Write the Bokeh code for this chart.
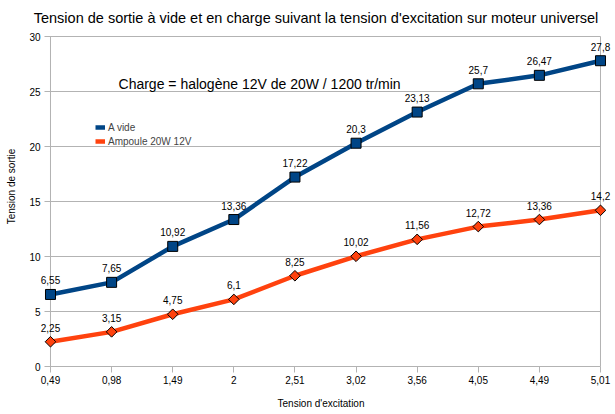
import math
from bokeh.plotting import figure
from bokeh.models import (Range1d, FixedTicker, Label, LabelSet,
                          ColumnDataSource, Legend, LegendItem)
from bokeh.core.properties import value
from bokeh.embed import file_html
from bokeh.resources import INLINE

categories = ["0,49", "0,98", "1,49", "2", "2,51", "3,02", "3,56", "4,05", "4,49", "5,01"]
a_vide = [6.55, 7.65, 10.92, 13.36, 17.22, 20.3, 23.13, 25.7, 26.47, 27.8]
ampoule = [2.25, 3.15, 4.75, 6.1, 8.25, 10.02, 11.56, 12.72, 13.36, 14.2]
y_ticks = [0, 5, 10, 15, 20, 25, 30]

BLUE = "#004586"
ORANGE = "#ff420e"
GRID = "#b3b3b3"
FONT = "Liberation Sans"

def fmt(v):
    return f"{v:g}".replace(".", ",")

xs = list(range(len(categories)))
src_a = ColumnDataSource(dict(x=xs, y=a_vide, t=[fmt(v) for v in a_vide]))
src_b = ColumnDataSource(dict(x=xs, y=ampoule, t=[fmt(v) for v in ampoule]))
src_g = ColumnDataSource(dict(y=y_ticks, x0=[xs[0]] * len(y_ticks), x1=[xs[-1]] * len(y_ticks),
                              t=[str(v) for v in y_ticks]))
src_v = ColumnDataSource(dict(x=[xs[0], xs[-1]], y0=[y_ticks[0]] * 2, y1=[y_ticks[-1]] * 2))

# the frame also covers the title area, the y tick labels and a strip below 0
top_room = 3.273
bottom_room = 0.545
p = figure(width=615, height=414, output_backend="svg", toolbar_location=None,
           x_range=Range1d(xs[0] - 0.3927, xs[-1] + 0.2455),
           y_range=Range1d(y_ticks[0] - bottom_room, y_ticks[-1] + top_room),
           min_border_left=26, min_border_right=0, min_border_top=0, min_border_bottom=42)
p.outline_line_color = None
p.background_fill_color = "white"
p.border_fill_color = "white"
p.xgrid.grid_line_color = None
p.ygrid.grid_line_color = None

# gridlines + borders + y tick marks
p.segment(x0="x0", y0="y", x1="x1", y1="y", source=src_g, line_color=GRID, line_width=1)
p.segment(x0="x", y0="y0", x1="x", y1="y1", source=src_v, line_color=GRID, line_width=1)
p.scatter("x0", "y", source=src_g, marker="dash", size=12, line_color=GRID, line_width=1)
p.add_layout(LabelSet(x="x0", y="y", text="t", source=src_g, text_align="right",
                      text_baseline="middle", x_offset=-10,
                      text_font=value(FONT), text_font_size="10px", text_color="black"))

# y axis (only its title)
p.yaxis.ticker = FixedTicker(ticks=[])
p.yaxis.axis_line_color = None
p.yaxis.major_tick_in = 0
p.yaxis.major_tick_out = 0
p.yaxis.minor_tick_line_color = None
p.yaxis.major_label_standoff = 0
p.yaxis.axis_label = "Tension de sortie"
p.yaxis.axis_label_text_font = FONT
p.yaxis.axis_label_text_font_size = "10px"
p.yaxis.axis_label_text_font_style = "normal"
p.yaxis.axis_label_text_color = "black"
p.yaxis.axis_label_standoff = 10

# x axis (sits 6px below the 0 line; its ticks point up to it)
p.xaxis.ticker = FixedTicker(ticks=xs)
p.xaxis.bounds = (xs[0], xs[-1])
p.xaxis.major_label_overrides = {i: c for i, c in enumerate(categories)}
p.xaxis.axis_line_color = None
p.xaxis.major_tick_in = 6
p.xaxis.major_tick_out = 0
p.xaxis.major_tick_line_color = GRID
p.xaxis.minor_tick_line_color = None
p.xaxis.major_label_standoff = 3
p.xaxis.major_label_text_font = FONT
p.xaxis.major_label_text_font_size = "10px"
p.xaxis.major_label_text_color = "black"
p.xaxis.axis_label = "Tension d'excitation"
p.xaxis.axis_label_text_font = FONT
p.xaxis.axis_label_text_font_size = "10px"
p.xaxis.axis_label_text_font_style = "normal"
p.xaxis.axis_label_text_color = "black"
p.xaxis.axis_label_standoff = 11

# series
r_b = p.line("x", "y", source=src_b, line_color=ORANGE, line_width=4.5)
p.scatter("x", "y", source=src_b, marker="square", angle=math.pi / 4, size=7.5,
          fill_color=ORANGE, line_color="black", line_width=1)
r_a = p.line("x", "y", source=src_a, line_color=BLUE, line_width=4.5)
p.scatter("x", "y", source=src_a, marker="square", size=10,
          fill_color=BLUE, line_color="black", line_width=1)

for src in (src_a, src_b):
    p.add_layout(LabelSet(x="x", y="y", text="t", source=src, text_align="center",
                          text_baseline="alphabetic", y_offset=10,
                          text_font=value(FONT), text_font_size="10px", text_color="black"))

# title and subtitle
p.add_layout(Label(x=4.345, y=31.727,
                   text="Tension de sortie à vide et en charge suivant la tension d'excitation sur moteur universel",
                   text_align="center", text_baseline="alphabetic", text_font=FONT,
                   text_font_size="14.5px", text_color="black"))
p.add_layout(Label(x=1.113, y=25.64, text="Charge = halogène 12V de 20W / 1200 tr/min",
                   text_align="left", text_baseline="alphabetic", text_font=FONT,
                   text_font_size="14px", text_color="black"))

legend = Legend(items=[LegendItem(label="A vide", renderers=[r_a]),
                       LegendItem(label="Ampoule 20W 12V", renderers=[r_b])],
                location=(69, 224), padding=0, margin=0, spacing=0,
                glyph_width=10, glyph_height=12, label_height=14, label_standoff=3,
                label_text_font=FONT, label_text_font_size="10px",
                border_line_color=None, background_fill_alpha=0)
p.add_layout(legend)

open("out.html", "w").write(file_html(p, INLINE))
